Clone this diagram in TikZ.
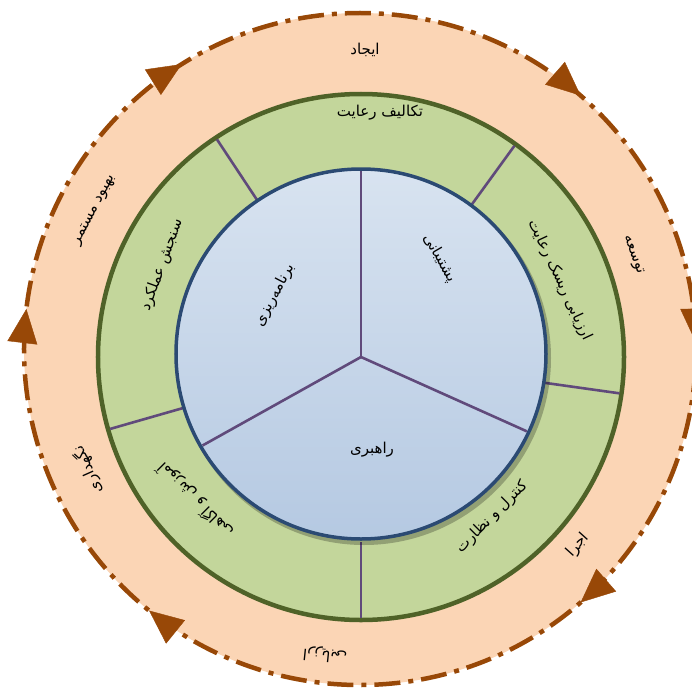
\documentclass[tikz,border=0pt]{standalone}
\usepackage{fontspec}
\newfontfamily\arabicfont[Script=Arabic]{DejaVu Sans}
\TeXXeTstate=1
\usetikzlibrary{calc, decorations.markings, arrows.meta}

\definecolor{peach}{HTML}{FBD5B5}
\definecolor{rust}{HTML}{984807}
\definecolor{leaf}{HTML}{C3D69B}
\definecolor{olive}{HTML}{4F6228}
\definecolor{plum}{HTML}{604A7B}
\definecolor{skyA}{HTML}{D8E3F0}
\definecolor{skyB}{HTML}{B5C9E2}
\definecolor{navy}{HTML}{2B4A73}

\newcommand{\fa}[1]{\beginR #1\endR}
\newcommand{\rimtip}{\arrowreversed[rust]{Triangle[length=34pt,width=30pt]}}

\begin{document}
\begin{tikzpicture}[x=1pt, y=1pt,
  lbl/.style={font=\arabicfont\fontsize{15}{17}\selectfont, inner sep=1pt},
  divider/.style={plum, line width=2.6pt},
  rim/.style={rust, line width=4.5pt,
    dash pattern=on 26pt off 8pt on 5pt off 8pt},
  tips/.style={postaction={decorate, decoration={markings,
    mark=at position 0.003 with {\rimtip},
    mark=at position 0.136 with {\rimtip},
    mark=at position 0.339 with {\rimtip},
    mark=at position 0.481 with {\rimtip},
    mark=at position 0.642 with {\rimtip},
    mark=at position 0.864 with {\rimtip}}}}]
  % origin = centre of the inner wheel (pixel 361,357)
  \useasboundingbox (-361,-334) rectangle (331,357);
  \def\ro{336}
  \def\rg{263}
  \def\rb{185}
  \coordinate (O) at (0,0);
  \coordinate (Oo) at (-1,8);
  \coordinate (Ob) at (0,3);
  % outer ring
  \fill[peach] (Oo) circle (\ro);
  \draw[rim] (Oo) circle (\ro);
  \path[tips] (Oo) circle (\ro);
  % green ring
  \fill[leaf] (O) circle (\rg);
  \draw[olive, line width=4.5pt] (O) circle (\rg);
  \foreach \a in {123.5, 54, -8, -90, 196}
    \draw[divider] (\a:\rb) -- (\a:\rg-2);
  % inner wheel
  \fill[black, opacity=0.25] ($(Ob)+(3,-4)$) circle (\rb+2);
  \shade[top color=skyA, bottom color=skyB] (Ob) circle (\rb);
  \draw[navy, line width=3.5pt] (Ob) circle (\rb);
  \foreach \a in {90, 210, 335}
    \draw[divider] (O) -- ($(Ob)+(\a:\rb-2)$);
  % outer labels
  \node[lbl] (ijad) at (4,307) {\fa{ایجاد}};
  \node[lbl, rotate=-70] (tose) at (272,102) {\fa{توسعه}};
  \node[lbl, rotate=48] (ejra) at (217,-188) {\fa{اجرا}};
  \node[lbl, rotate=174] (arzy) at (-36,-298) {\fa{ارزیابی}};
  \node[lbl, rotate=114] (negh) at (-273,-113) {\fa{نگهداری}};
  \node[lbl, rotate=62] (behb) at (-266,147) {\fa{بهبود مستمر}};
  % green labels
  \node[lbl] (takl) at (19,244) {\fa{تکالیف رعایت}};
  \node[lbl, rotate=-65] (risk) at (199,77) {\fa{ارزیابی ریسک رعایت}};
  \node[lbl, rotate=45] (kont) at (131,-160) {\fa{کنترل و نظارت}};
  \node[lbl, rotate=135] (amuz) at (-166,-143) {\fa{آموزش و آگاهی}};
  \node[lbl, rotate=70] (sanj) at (-199,92) {\fa{سنجش عملکرد}};
  % inner labels
  \node[lbl, rotate=-60] (posh) at (79,99) {\fa{پشتیبانی}};
  \node[lbl, rotate=62] (barn) at (-86,62) {\fa{برنامه‌ریزی}};
  \node[lbl] (rahb) at (11,-93) {\fa{راهبری}};
\end{tikzpicture}
\end{document}
